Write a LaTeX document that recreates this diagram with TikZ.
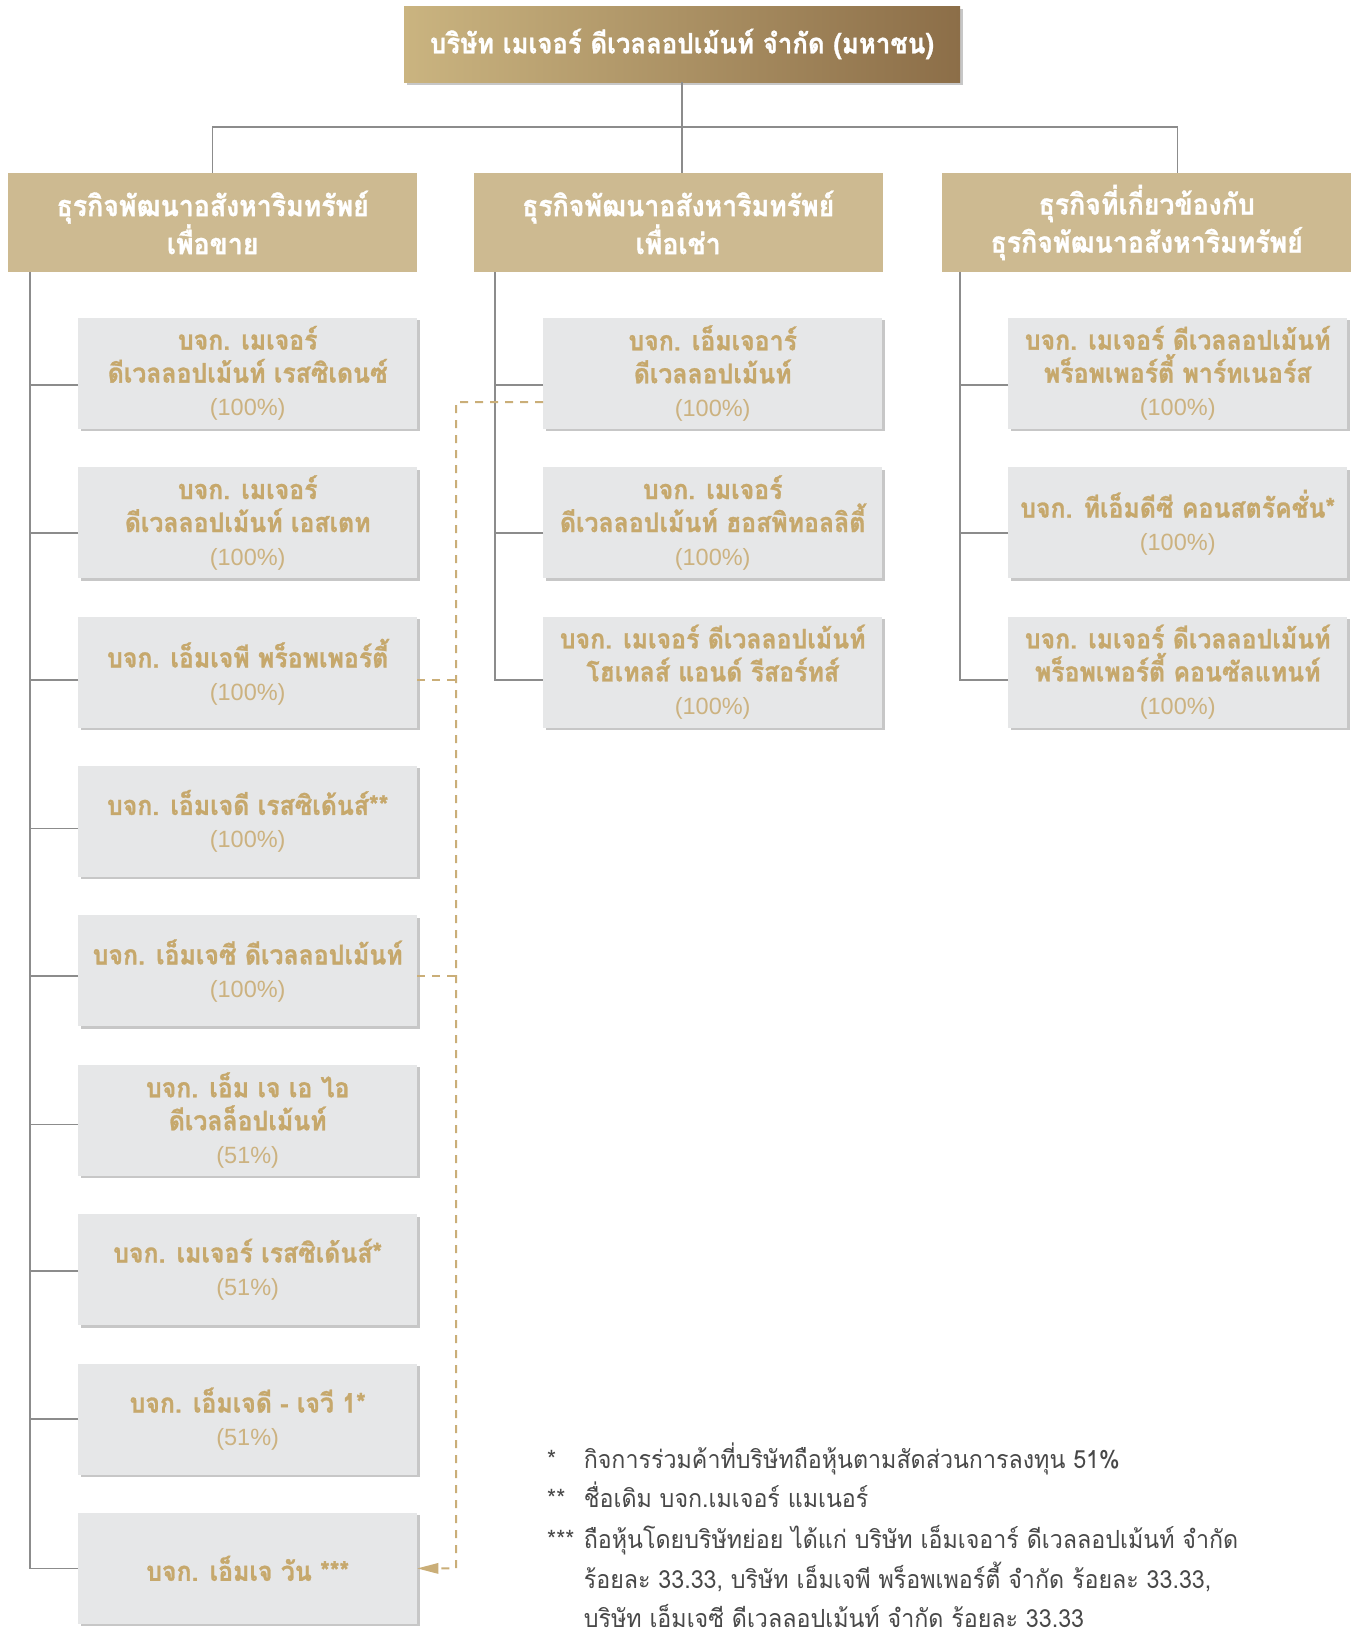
\documentclass[tikz,border=0pt]{standalone}
\usepackage{fontspec}
\usetikzlibrary{arrows.meta,shadows,calc}
\newfontfamily\thaibx[Script=Thai,FakeStretch=0.92,FakeBold=1.0]{Loma}
\newfontfamily\thainote[Script=Thai,FakeStretch=0.93]{Loma}
\newfontfamily\pctfont{Liberation Sans}
\definecolor{goldL}{RGB}{202,180,128}
\definecolor{goldR}{RGB}{140,110,72}
\definecolor{catfill}{RGB}{205,186,145}
\definecolor{subfill}{RGB}{230,231,232}
\definecolor{tantext}{RGB}{198,168,108}
\definecolor{pcttan}{RGB}{204,178,128}
\definecolor{conngray}{RGB}{140,140,140}
\definecolor{dashtan}{RGB}{202,174,120}
\definecolor{notegray}{RGB}{72,72,72}
\newcommand\pcl[1]{{\pctfont\mdseries\color{pcttan}\fontsize{23.5}{33}\selectfont(#1\%)}}
\tikzset{
  conn/.style={draw=conngray, line width=1.5pt},
  dashln/.style={draw=dashtan, line width=2pt, dash pattern=on 8pt off 7pt},
  boxshadow/.style={drop shadow={shadow xshift=2.5pt, shadow yshift=-2.5pt, fill=black!22, opacity=1}},
  subbox/.style={fill=subfill, anchor=north west, minimum width=339pt, minimum height=111pt,
    inner sep=0pt, align=center, text=tantext, boxshadow,
    font=\thaibx\bfseries\fontsize{27}{33}\selectfont},
  catbox/.style={fill=catfill, anchor=north west, minimum width=409pt, minimum height=99.5pt,
    inner sep=0pt, align=center, text=white,
    font=\thaibx\bfseries\fontsize{29}{38}\selectfont},
  topbox/.style={left color=goldL, right color=goldR, minimum width=556pt, minimum height=76pt,
    inner sep=0pt, align=center, text=white, boxshadow,
    font=\thaibx\bfseries\fontsize{28}{32}\selectfont},
  note/.style={anchor=base west, inner sep=0pt, text=notegray,
    font=\thainote\fontsize{25}{30}\selectfont}
}
\begin{document}
\begin{tikzpicture}[x=1pt,y=-1pt]
\useasboundingbox (0,0) rectangle (1357,1630);
% top
\node[topbox] (top) at (682,44) {บริษัท เมเจอร์ ดีเวลลอปเม้นท์ จำกัด (มหาชน)};
% categories
\node[catbox] (cat1) at (8,172.5) {ธุรกิจพัฒนาอสังหาริมทรัพย์\\เพื่อขาย};
\node[catbox] (cat2) at (473.5,172.5) {ธุรกิจพัฒนาอสังหาริมทรัพย์\\เพื่อเช่า};
\node[catbox] (cat3) at (942,172.5) {ธุรกิจที่เกี่ยวข้องกับ\\ธุรกิจพัฒนาอสังหาริมทรัพย์};
% left column
\node[subbox] (l1) at (78,317.5) {บจก. เมเจอร์\\ดีเวลลอปเม้นท์ เรสซิเดนซ์\\\pcl{100}};
\node[subbox] (l2) at (78,466.9) {บจก. เมเจอร์\\ดีเวลลอปเม้นท์ เอสเตท\\\pcl{100}};
\node[subbox] (l3) at (78,616.3) {บจก. เอ็มเจพี พร็อพเพอร์ตี้\\\pcl{100}};
\node[subbox] (l4) at (78,765.7) {บจก. เอ็มเจดี เรสซิเด้นส์**\\\pcl{100}};
\node[subbox] (l5) at (78,915.1) {บจก. เอ็มเจซี ดีเวลลอปเม้นท์\\\pcl{100}};
\node[subbox] (l6) at (78,1064.5) {บจก. เอ็ม เจ เอ ไอ\\ดีเวลล็อปเม้นท์\\\pcl{51}};
\node[subbox] (l7) at (78,1213.9) {บจก. เมเจอร์ เรสซิเด้นส์*\\\pcl{51}};
\node[subbox] (l8) at (78,1363.3) {บจก. เอ็มเจดี - เจวี 1*\\\pcl{51}};
\node[subbox] (l9) at (78,1512.7) {บจก. เอ็มเจ วัน ***};
% middle column
\node[subbox] (m1) at (543,317.5) {บจก. เอ็มเจอาร์\\ดีเวลลอปเม้นท์\\\pcl{100}};
\node[subbox] (m2) at (543,466.9) {บจก. เมเจอร์\\ดีเวลลอปเม้นท์ ฮอสพิทอลลิตี้\\\pcl{100}};
\node[subbox] (m3) at (543,616.3) {บจก. เมเจอร์ ดีเวลลอปเม้นท์\\โฮเทลส์ แอนด์ รีสอร์ทส์\\\pcl{100}};
% right column
\node[subbox] (r1) at (1008,317.5) {บจก. เมเจอร์ ดีเวลลอปเม้นท์\\พร็อพเพอร์ตี้ พาร์ทเนอร์ส\\\pcl{100}};
\node[subbox] (r2) at (1008,466.9) {บจก. ทีเอ็มดีซี คอนสตรัคชั่น*\\\pcl{100}};
\node[subbox] (r3) at (1008,616.3) {บจก. เมเจอร์ ดีเวลลอปเม้นท์\\พร็อพเพอร์ตี้ คอนซัลแทนท์\\\pcl{100}};
% top connectors
\coordinate (hub) at (682,127);
\draw[conn] (top.south) -- (hub);
\draw[conn] (cat1.north) |- (hub) -| ([xshift=31pt]cat3.north);
\draw[conn] (hub) -- (hub |- cat2.north);
% spines
\draw[conn] ([xshift=22pt]cat1.south west) |- (l9.west);
\draw[conn] ([xshift=21.5pt]cat2.south west) |- ([yshift=-8pt]m3.west);
\draw[conn] ([xshift=18pt]cat3.south west) |- ([yshift=-8pt]r3.west);
\foreach \n/\o in {1/12,2/10.5,3/8,4/7,5/5,6/4.5,7/1.5,8/0}{
  \draw[conn] ([yshift=-\o pt]l\n.west) -- ++(-48,0);
}
\foreach \n/\o in {1/12,2/10.5}{
  \draw[conn] ([yshift=-\o pt]m\n.west) -- ++(-48,0);
  \draw[conn] ([yshift=-\o pt]r\n.west) -- ++(-48,0);
}
% dashed ownership lines
\coordinate (dx) at (456,402);
\draw[dashln] ([yshift=-29pt]m1.west) -- (dx) -- (dx |- l9.east) -- ++(-17,0);
\draw[dashln] ([yshift=-8pt]l3.east) -- ++(39,0);
\draw[dashln] ([yshift=-5pt]l5.east) -- ++(39,0);
\draw[draw=none, fill=dashtan] (l9.east) -- ++(21,-5.5) -- ++(0,11) -- cycle;
% footnotes
\node[note] (n1) at (547,1468) {*};
\node[note] (n2) at (547,1507.5) {**};
\node[note] (n3) at (547,1548) {***};
\node[note] (t1) at (583.6,1468) {กิจการร่วมค้าที่บริษัทถือหุ้นตามสัดส่วนการลงทุน 51\%};
\node[note] (t2) at (583.6,1507.5) {ชื่อเดิม บจก.เมเจอร์ แมเนอร์};
\node[note] (t3) at (583.6,1548) {ถือหุ้นโดยบริษัทย่อย ได้แก่ บริษัท เอ็มเจอาร์ ดีเวลลอปเม้นท์ จำกัด};
\node[note] (t4) at (583.6,1588) {ร้อยละ 33.33, บริษัท เอ็มเจพี พร็อพเพอร์ตี้ จำกัด ร้อยละ 33.33,};
\node[note] (t5) at (583.6,1627) {บริษัท เอ็มเจซี ดีเวลลอปเม้นท์ จำกัด ร้อยละ 33.33};
\end{tikzpicture}
\end{document}
